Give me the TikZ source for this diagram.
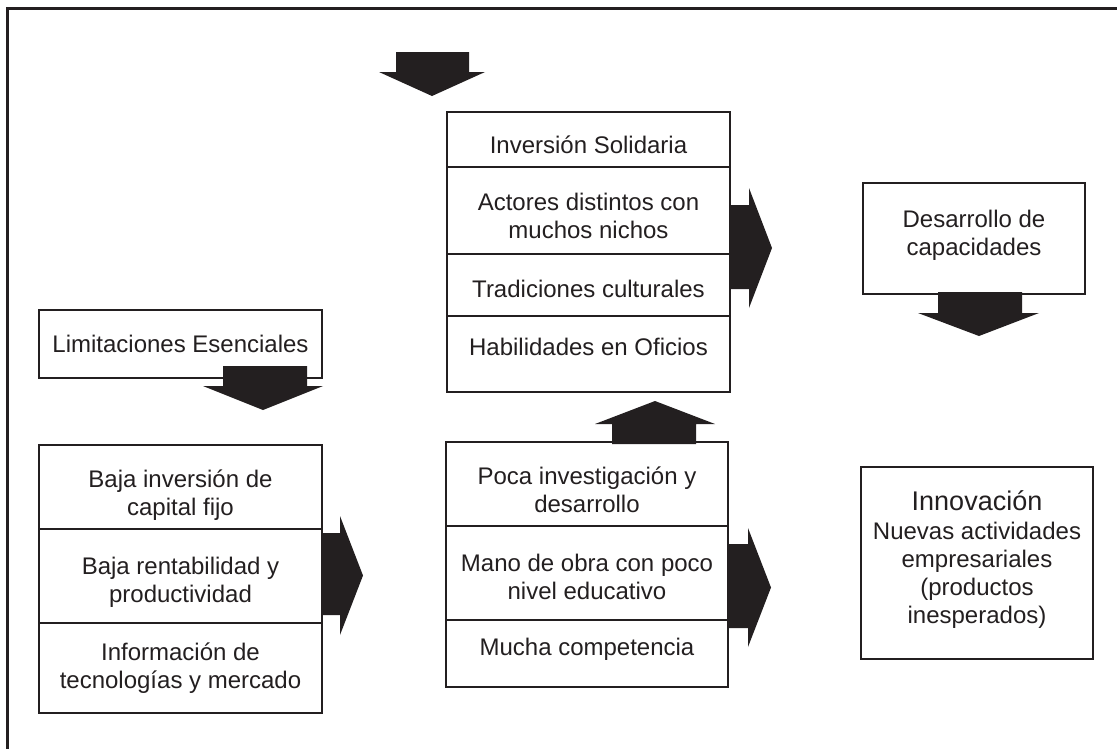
\documentclass[tikz,border=0pt]{standalone}
\usepackage{fontspec}
\setmainfont{Liberation Sans}
\definecolor{ink}{HTML}{231F20}
\newcommand\mkcell[5]{\node[cell, minimum width=#4pt, minimum height=#5pt] (#1) at (#2,#3) {};}
\begin{document}
\begin{tikzpicture}[x=1pt,y=-1pt,
  cell/.style={draw=ink, line width=2.6pt, anchor=north west, inner sep=0pt, outer sep=0pt},
  txt/.style={anchor=base, align=center, text=ink, inner sep=0pt, font=\fontsize{24}{28}\selectfont},
  blk/.style={fill=ink, draw=none}]
\useasboundingbox (0,0) rectangle (1117,748);
\fill[white] (0,0) rectangle (1117,748);
% outer frame (only top and left edges visible)
\draw[ink, line width=3pt] (7,749) -- (7,8) -- (1118,8);

% top middle stack
\mkcell{s1}{447}{112}{283}{55}
\mkcell{s2}{447}{167}{283}{87}
\mkcell{s3}{447}{254}{283}{62}
\mkcell{s4}{447}{316}{283}{76}
\node[txt] (ts1) at (588.5,153) {Inversión Solidaria};
\node[txt] (ts2) at (588.5,238.5) {Actores distintos con\\muchos nichos};
\node[txt] (ts3) at (588.5,297.5) {Tradiciones culturales};
\node[txt] (ts4) at (588.5,355.5) {Habilidades en Oficios};

% Limitaciones
\mkcell{lim}{39}{310}{283}{68}
\node[txt] (tlim) at (180.5,352.5) {Limitaciones Esenciales};

% left stack
\mkcell{l1}{39}{445}{283}{84}
\mkcell{l2}{39}{529}{283}{94}
\mkcell{l3}{39}{623}{283}{90}
\node[txt] (tl1) at (180.5,515.5) {Baja inversión de\\capital fijo};
\node[txt] (tl2) at (180.5,602.5) {Baja rentabilidad y\\productividad};
\node[txt] (tl3) at (180.5,688.5) {Información de\\tecnologías y mercado};

% bottom middle stack
\mkcell{m1}{446}{442}{282}{84}
\mkcell{m2}{446}{526}{282}{94}
\mkcell{m3}{446}{620}{282}{67}
\node[txt] (tm1) at (587,512.5) {Poca investigación y\\desarrollo};
\node[txt] (tm2) at (587,599.5) {Mano de obra con poco\\nivel educativo};
\node[txt] (tm3) at (587,655.5) {Mucha competencia};

% right column
\mkcell{des}{863}{183}{222}{111}
\node[txt] (tdes) at (974,255.5) {Desarrollo de\\capacidades};
\mkcell{inn}{861}{467}{232}{192}
\node[txt] (tinn) at (977,623.5) {{\fontsize{27}{30}\selectfont Innovación}\\[1pt]Nuevas actividades\\empresariales\\(productos\\inesperados)};

% block arrows
\fill[blk] (396,52)--(469,52)--(469,72)--(485,72)--(432,96)--(379,72)--(396,72)--cycle;
\fill[blk] (223,366)--(307,366)--(307,386)--(323,386)--(263,410)--(203,386)--(223,386)--cycle;
\fill[blk] (321,533)--(340,533)--(340,516)--(363,575.5)--(340,635)--(340,615)--(321,615)--cycle;
\fill[blk] (729,205)--(749,205)--(749,188)--(772,248)--(749,308)--(749,289)--(729,289)--cycle;
\fill[blk] (727,544)--(748,544)--(748,528)--(771,587.5)--(748,647)--(748,628)--(727,628)--cycle;
\fill[blk] (612,444)--(612,424)--(595,424)--(655,401)--(715,424)--(696,424)--(696,444)--cycle;
\fill[blk] (938,292)--(1022,292)--(1022,313)--(1039,313)--(979,336)--(918,313)--(938,313)--cycle;
\end{tikzpicture}
\end{document}
